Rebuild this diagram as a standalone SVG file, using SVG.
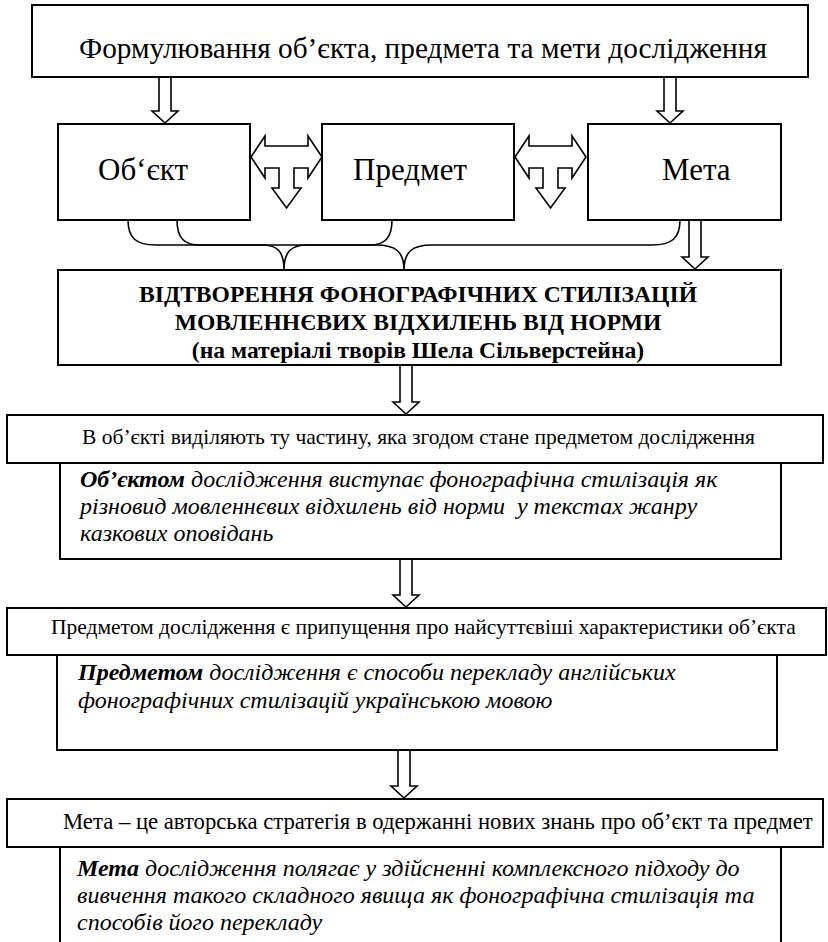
<svg xmlns="http://www.w3.org/2000/svg" width="828" height="942" viewBox="0 0 828 942">
<style>
.box{fill:#fff;stroke:#000;stroke-width:2}
.arr{fill:#fff;stroke:#000;stroke-width:1.6;stroke-linejoin:miter}
.br{fill:none;stroke:#000;stroke-width:1.6}
text{font-family:'Liberation Serif','DejaVu Serif',serif;fill:#000}
.t1{font-size:29.3px}
.lab{font-size:31px}
.bold{font-size:23.6px;font-weight:bold}
.one{font-size:21.5px}
.it{font-size:24px;font-style:italic}
.b{font-weight:bold}
</style>
<rect width="828" height="942" fill="#fff"/>
<g id="connectors">
<polygon class="arr" points="159,77 171,77 171,111 178,111 165,123 152,111 159,111"/>
<polygon class="arr" points="664,77 676,77 676,111 683,111 670,123 657,111 664,111"/>
<polygon class="arr" points="689,220 701,220 701,257 708,257 695,269 682,257 689,257"/>
<polygon class="arr" points="400,365 412,365 412,402 419,402 406,414 393,402 400,402"/>
<polygon class="arr" points="400,559 412,559 412,595 419,595 406,607 393,595 400,595"/>
<polygon class="arr" points="398,750 410,750 410,786 417,786 404,798 391,786 398,786"/>
<polygon class="arr" points="251,157 265,178 265,168 279,168 279,188 272,188 286.5,208 301,188 294,188 294,168 308,168 308,178 322,157 308,136 308,146 265,146 265,136"/>
<polygon class="arr" points="515,157 529,178 529,168 543,168 543,188 536,188 550.5,208 565,188 558,188 558,168 572,168 572,178 586,157 572,136 572,146 529,146 529,136"/>
<path class="br" d="M128,220 C128,238 136,245 156,245 L376,245 C396,245 404,252 404,270 C404,252 412,245 432,245 L652,245 C672,245 680,238 680,220"/>
<path class="br" d="M177,220 C177,238 184,245 200,245 L262,245 C278,245 284,252 284,270 C284,252 291,245 307,245 L369,245 C385,245 392,238 392,220"/>
</g>
<g id="node-top">
<rect class="box" x="32" y="5" width="776" height="72"/>
<text class="t1" x="79" y="58">Формулювання об’єкта, предмета та мети дослідження</text>
</g>
<g id="node-obiekt">
<rect class="box" x="58" y="124" width="192" height="96"/>
<text class="lab" x="98" y="180">Об‘єкт</text>
</g>
<g id="node-predmet">
<rect class="box" x="322" y="124" width="192" height="96"/>
<text class="lab" x="353" y="180">Предмет</text>
</g>
<g id="node-meta">
<rect class="box" x="588" y="124" width="193" height="96"/>
<text class="lab" x="662" y="180">Мета</text>
</g>
<g id="node-main">
<rect class="box" x="58" y="270" width="723" height="95"/>
<text class="bold" x="418" y="302" text-anchor="middle">ВІДТВОРЕННЯ ФОНОГРАФІЧНИХ СТИЛІЗАЦІЙ</text>
<text class="bold" x="418" y="330" text-anchor="middle">МОВЛЕННЄВИХ ВІДХИЛЕНЬ ВІД НОРМИ</text>
<text class="bold" x="418" y="358" text-anchor="middle">(на матеріалі творів Шела Сільверстейна)</text>
</g>
<g id="node-obiekt-def">
<rect class="box" x="7" y="415" width="816" height="48"/>
<text class="one" x="82" y="444">В об’єкті виділяють ту частину, яка згодом стане предметом дослідження</text>
</g>
<g id="node-obiekt-text">
<rect class="box" x="60" y="463" width="721" height="96"/>
<text class="it" x="80" y="487"><tspan class="b">Об’єктом</tspan> дослідження виступає фонографічна стилізація як</text>
<text class="it" x="80" y="514" xml:space="preserve">різновид мовленнєвих відхилень від норми  у текстах жанру</text>
<text class="it" x="80" y="541">казкових оповідань</text>
</g>
<g id="node-predmet-def">
<rect class="box" x="7" y="608" width="819" height="47"/>
<text class="one" x="51" y="634">Предметом дослідження є припущення про найсуттєвіші характеристики об’єкта</text>
</g>
<g id="node-predmet-text">
<rect class="box" x="57" y="655" width="720" height="95"/>
<text class="it" x="78" y="680"><tspan class="b">Предметом</tspan> дослідження є способи перекладу англійських</text>
<text class="it" x="78" y="708">фонографічних стилізацій українською мовою</text>
</g>
<g id="node-meta-def">
<rect class="box" x="7" y="799" width="816" height="48"/>
<text class="one" x="63" y="829" style="font-size:22.7px">Мета – це авторська стратегія в одержанні нових знань про об’єкт та предмет</text>
</g>
<g id="node-meta-text">
<rect class="box" x="60" y="847" width="721" height="110"/>
<text class="it" x="77" y="876"><tspan class="b">Мета</tspan> дослідження полягає у здійсненні комплексного підходу до</text>
<text class="it" x="77" y="903">вивчення такого складного явища як фонографічна стилізація та</text>
<text class="it" x="77" y="930">способів його перекладу</text>
</g>
</svg>
